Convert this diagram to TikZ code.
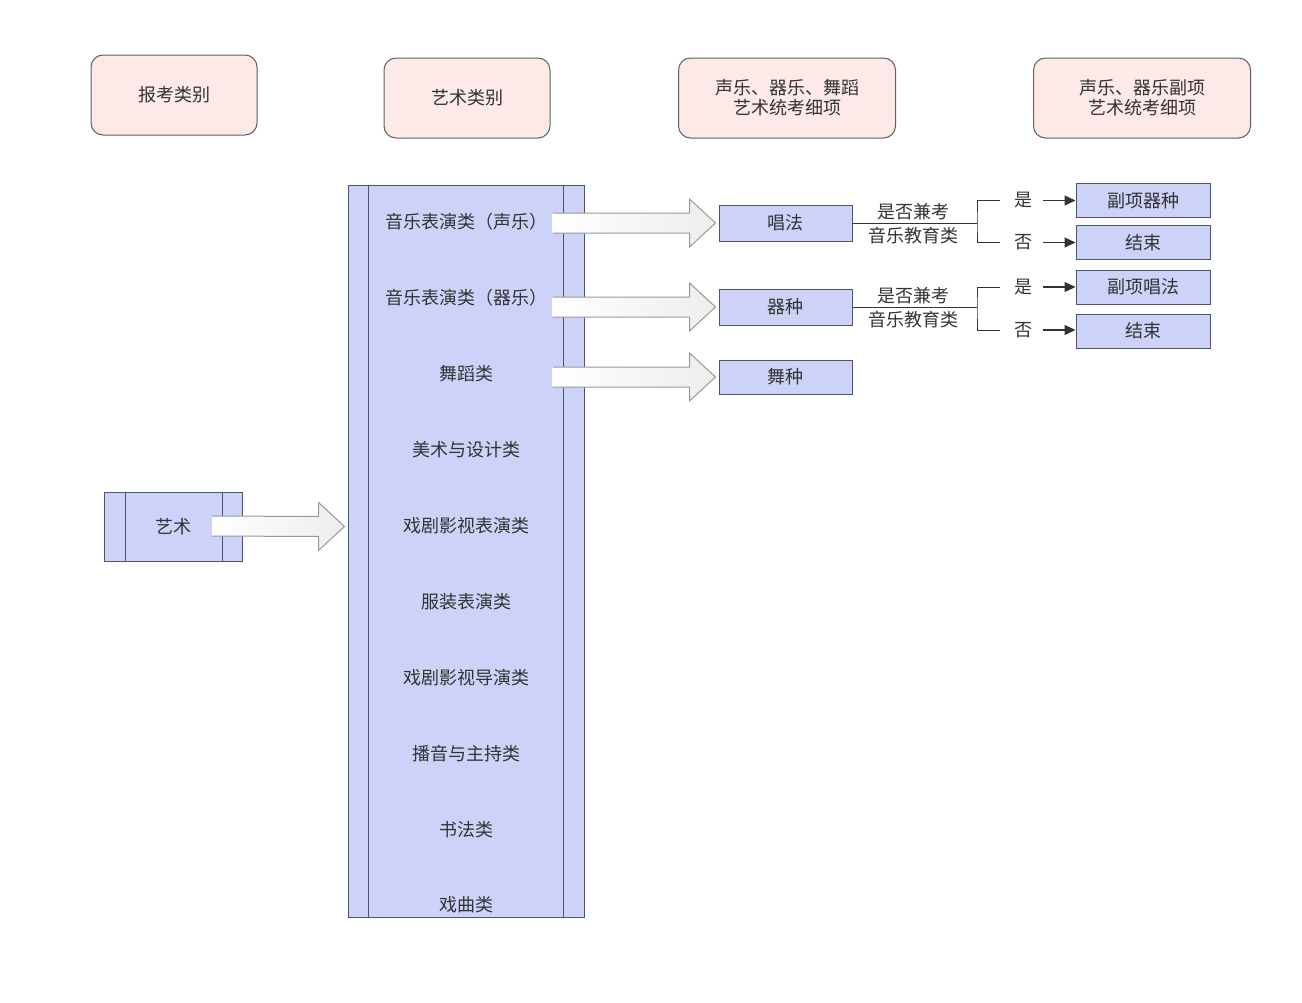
\documentclass[tikz,border=0pt]{standalone}
\usepackage{fontspec}
\setmainfont{Noto Sans CJK SC}
\usetikzlibrary{positioning, calc, arrows.meta}

\definecolor{headpink}{HTML}{FCE9E8}
\definecolor{lavender}{HTML}{CDD2F8}
\definecolor{boxline}{HTML}{4C5373}
\definecolor{inkgray}{HTML}{333333}

% fat arrow from a start coordinate to a tip coordinate
\newcommand\fatarrow[2]{%
  \draw[fatline] ($(#1)+(0,10)$) -- ($(#2)+(-26,10)$) -- ($(#2)+(-26,24)$) -- (#2)
    -- ($(#2)+(-26,-24)$) -- ($(#2)+(-26,-10)$) -- ($(#1)+(0,-10)$);}

\begin{document}
\begin{tikzpicture}[x=1pt, y=-1pt,
    nodes={font=\fontsize{18}{20}\selectfont, text=inkgray},
    header/.style={draw=gray!75!black, fill=headpink, rounded corners=12pt, line width=1pt,
      minimum width=166pt, minimum height=80pt, align=center},
    catbox/.style={draw=boxline, fill=lavender, line width=1pt, inner sep=0pt},
    plain/.style={inner sep=0pt},
    thinline/.style={draw=inkgray, line width=1pt},
    smallarrow/.style={-{Triangle[length=11pt,width=10pt]}, draw=inkgray, line width=1.2pt},
    fatline/.style={draw=gray!80, line width=1pt, left color=white, right color=gray!14}]
  \useasboundingbox (0,0) rectangle (1302,1002);

  % Header row
  \node (h1) [header] at (174,95) {报考类别};
  \node (h2) [header] at (467,98) {艺术类别};
  \node (h3) [header, minimum width=217pt] at (787,98) {声乐、器乐、舞蹈\\艺术统考细项};
  \node (h4) [header, minimum width=217pt] at (1142,98) {声乐、器乐副项\\艺术统考细项};

  % Art categories column
  \node (col) [catbox, minimum width=236pt, minimum height=732pt] at (466,551) {};
  \draw[boxline, line width=1pt] ($(col.north west)+(21,0)$) -- ($(col.south west)+(21,0)$);
  \draw[boxline, line width=1pt] ($(col.north east)+(-21,0)$) -- ($(col.south east)+(-21,0)$);
  \foreach \txt [count=\i] in {音乐表演类（声乐）, 音乐表演类（器乐）, 舞蹈类, 美术与设计类,
      戏剧影视表演类, 服装表演类, 戏剧影视导演类, 播音与主持类, 书法类, 戏曲类}
    \node (c\i) [plain] at (466, 146.1+75.9*\i) {\txt};

  % Exam type
  \node (art) [catbox, minimum width=138pt, minimum height=69pt] at (173,526.5) {艺术};
  \draw[boxline, line width=1pt] ($(art.north west)+(22,0)$) -- ($(art.south west)+(22,0)$);
  \draw[boxline, line width=1pt] ($(art.north east)+(-20,0)$) -- ($(art.south east)+(-20,0)$);
  \coordinate (s0) at (212,526);
  \coordinate (t0) at ($(art -| col.west)+(-3,0)$);
  \fatarrow{s0}{t0}

  % Unified exam items
  \node (chang) [catbox, minimum width=133pt, minimum height=36pt] at (785.5,223) {唱法};
  \node (qizhong) [catbox, minimum width=133pt, minimum height=36pt] at (785.5,307) {器种};
  \node (wuzhong) [catbox, minimum width=133pt, minimum height=34pt] at (785.5,377) {舞种};
  \foreach \tgt [count=\i] in {chang, qizhong, wuzhong} {
    \coordinate (s\i) at ($(col.east |- \tgt)+(-32,0)$);
    \coordinate (t\i) at ($(\tgt.west)+(-3,0)$);
    \fatarrow{s\i}{t\i}
  }

  % Minor items, singing
  \node (fx1) [catbox, minimum width=134pt, minimum height=34pt] at (1143,200.5) {副项器种};
  \node (end1) [catbox, minimum width=134pt, minimum height=34pt] at (1143,242.5) {结束};
  \node (yes1) [plain] at (1023,200.5) {是};
  \node (no1) [plain] at (1023,242.5) {否};
  \node (ask1a) [plain] at (913,212) {是否兼考};
  \node (ask1b) [plain] at (913,236) {音乐教育类};
  \coordinate (b1) at (977,223);
  \draw[thinline] (chang.east) -- (b1);
  \draw[thinline, shorten <=14pt, shorten >=14pt] (yes1.west) -| (b1) |- (no1.west);
  \draw[smallarrow, shorten <=11pt] (yes1.east) -- (yes1.east -| fx1.west);
  \draw[smallarrow, shorten <=11pt] (no1.east) -- (no1.east -| end1.west);

  % Minor items, instrument
  \node (fx2) [catbox, minimum width=134pt, minimum height=34pt] at (1143,287) {副项唱法};
  \node (end2) [catbox, minimum width=134pt, minimum height=34pt] at (1143,331) {结束};
  \node (yes2) [plain] at (1023,287) {是};
  \node (no2) [plain] at (1023,330) {否};
  \node (ask2a) [plain] at (913,296) {是否兼考};
  \node (ask2b) [plain] at (913,320) {音乐教育类};
  \coordinate (b2) at (977,307);
  \draw[thinline] (qizhong.east) -- (b2);
  \draw[thinline, shorten <=14pt, shorten >=14pt] (yes2.west) -| (b2) |- (no2.west);
  \draw[smallarrow, shorten <=11pt] (yes2.east) -- (yes2.east -| fx2.west);
  \draw[smallarrow, shorten <=11pt] (no2.east) -- (no2.east -| end2.west);
\end{tikzpicture}
\end{document}
